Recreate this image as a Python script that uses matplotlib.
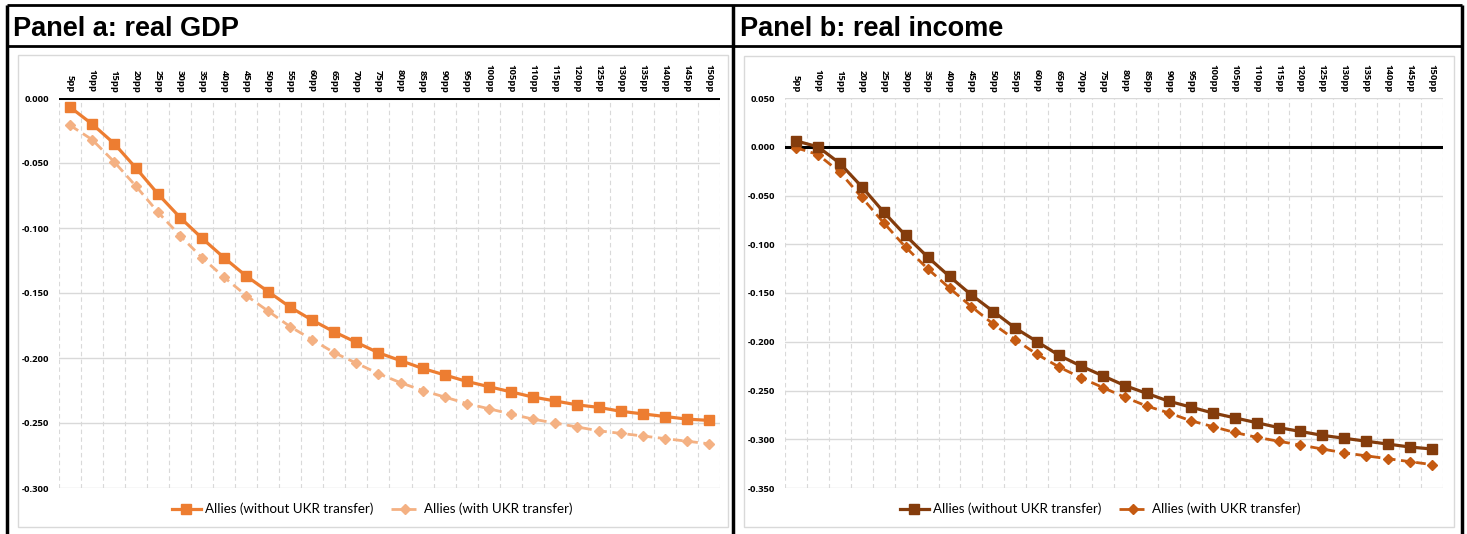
import matplotlib
matplotlib.use("Agg")
import matplotlib.pyplot as plt
from matplotlib.lines import Line2D

# categories (tariff shock in percentage points)
shocks = ["5pp", "10pp", "15pp", "20pp", "25pp", "30pp", "35pp", "40pp", "45pp", "50pp",
          "55pp", "60pp", "65pp", "70pp", "75pp", "80pp", "85pp", "90pp", "95pp", "100pp",
          "105pp", "110pp", "115pp", "120pp", "125pp", "130pp", "135pp", "140pp", "145pp", "150pp"]

# panel a: real GDP
gdp_without = [-0.007, -0.020, -0.035, -0.054, -0.074, -0.092, -0.108, -0.123, -0.137, -0.149,
               -0.161, -0.171, -0.180, -0.188, -0.196, -0.202, -0.208, -0.213, -0.218, -0.222,
               -0.226, -0.230, -0.233, -0.236, -0.238, -0.241, -0.243, -0.245, -0.247, -0.248]
gdp_with = [-0.021, -0.032, -0.049, -0.068, -0.088, -0.106, -0.123, -0.138, -0.152, -0.164,
            -0.176, -0.186, -0.196, -0.204, -0.212, -0.219, -0.225, -0.230, -0.235, -0.239,
            -0.243, -0.247, -0.250, -0.253, -0.256, -0.258, -0.260, -0.262, -0.264, -0.266]

# panel b: real income
income_without = [0.006, 0.000, -0.017, -0.041, -0.067, -0.091, -0.113, -0.133, -0.152, -0.169,
                  -0.186, -0.200, -0.214, -0.225, -0.235, -0.245, -0.253, -0.261, -0.267, -0.273,
                  -0.278, -0.283, -0.288, -0.292, -0.296, -0.299, -0.302, -0.305, -0.308, -0.310]
income_with = [-0.001, -0.008, -0.026, -0.052, -0.078, -0.103, -0.125, -0.145, -0.164, -0.182,
               -0.198, -0.213, -0.226, -0.237, -0.247, -0.257, -0.266, -0.273, -0.281, -0.287,
               -0.293, -0.298, -0.302, -0.306, -0.310, -0.314, -0.317, -0.320, -0.323, -0.326]

series_names = ["Allies (without UKR transfer)", "Allies (with UKR transfer)"]

W, H = 1467, 534
fig = plt.figure(figsize=(W / 100, H / 100), dpi=100)
fig.patch.set_facecolor("white")

TICK_FONT = {"family": "Open Sans", "weight": "bold", "size": 6.8}


def px(x0, y0, x1, y1):
    # pixel box -> figure fraction rect
    return [x0 / W, 1 - y1 / H, (x1 - x0) / W, (y1 - y0) / H]


def fline(xs, ys, color="black", lw=2.0):
    fig.add_artist(Line2D([x / W for x in xs], [1 - y / H for y in ys],
                          color=color, lw=lw, transform=fig.transFigure,
                          solid_capstyle="butt"))


def panel(rect, title, title_x, ymin, ymax, solid, dashed, c_solid, c_dashed, leg_x):
    ax = fig.add_axes(px(*rect))
    x = list(range(len(shocks)))
    ax.plot(x, solid, color=c_solid, lw=2.3, marker="s", markersize=6.5, zorder=4)
    ax.plot(x, dashed, color=c_dashed, lw=2.0, ls=(0, (3.5, 2)), marker="D",
            markersize=4.8, zorder=3)
    ax.axhline(0, color="black", lw=2.2, zorder=2)

    ax.set_xlim(-0.5, len(shocks) - 0.5)
    ax.set_ylim(ymin, ymax)
    ticks = [round(ymax - 0.05 * i, 3) for i in range(int(round((ymax - ymin) / 0.05)) + 1)]
    ax.set_yticks(ticks)
    ax.set_yticklabels([f"{t:.3f}".replace("-0.000", "0.000") for t in ticks], **TICK_FONT)
    ax.set_xticks(x)
    ax.set_xticklabels(shocks, rotation=-90, **TICK_FONT)
    ax.xaxis.tick_top()
    ax.tick_params(axis="both", length=0, pad=7)
    ax.tick_params(axis="x", pad=4)

    for s in ax.spines.values():
        s.set_visible(False)
    ax.grid(False)
    for t in ticks:
        ax.axhline(t, color="#d9d9d9", lw=1.0, zorder=0)
    for b in range(len(shocks) + 1):
        ax.axvline(b - 0.5, color="#d9d9d9", lw=0.8, ls=(0, (4, 3)), zorder=0)

    handles = [Line2D([], [], color=c_solid, lw=2.3, marker="s", markersize=6.5),
               Line2D([], [], color=c_dashed, lw=2.0, ls=(0, (3.5, 2)), marker="D",
                      markersize=4.8)]
    fig.legend(handles, series_names, loc="center", ncol=2, frameon=False,
               bbox_to_anchor=(leg_x / W, 1 - 509 / H), handlelength=2.2,
               handletextpad=0.3, columnspacing=1.3,
               prop={"family": "Lato", "size": 9.6})
    fig.text(title_x / W, 1 - 28.5 / H, title, fontsize=19.5, fontweight="bold",
             family="Liberation Sans", va="center", ha="left")
    return ax


# light frames around each chart area
for x0, y0, x1, y1 in [(18, 55, 728, 527), (744, 56, 1454, 527)]:
    fig.add_artist(plt.Rectangle((x0 / W, 1 - y1 / H), (x1 - x0) / W, (y1 - y0) / H,
                                 transform=fig.transFigure, fill=False,
                                 edgecolor="#d9d9d9", lw=1.0))

panel((59, 98, 720, 488), "Panel a: real GDP", 13, -0.300, 0.000,
      gdp_without, gdp_with, "#ed7d31", "#f4b183", 372)
panel((785, 98, 1443, 488), "Panel b: real income", 740, -0.350, 0.050,
      income_without, income_with, "#843c0c", "#c55a11", 1100)

# table borders
fline([7, 1462], [5, 5])
fline([7, 1462], [46, 46])
fline([7, 7], [5, 534], lw=2.5)
fline([733, 733], [5, 534], lw=2.5)
fline([1462, 1462], [5, 534], lw=2.5)

fig.savefig("out.png", dpi=100, facecolor="white")
